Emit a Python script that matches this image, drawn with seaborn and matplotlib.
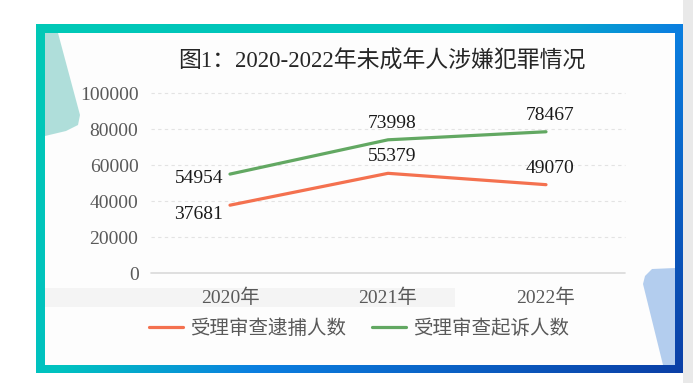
import numpy as np
import pandas as pd
import matplotlib
matplotlib.use("Agg")
import matplotlib.pyplot as plt
import seaborn as sns
from matplotlib.colors import LinearSegmentedColormap
from matplotlib.patches import Rectangle, Polygon

# data
years = ["2020年", "2021年", "2022年"]
arrest = [37681, 55379, 49070]
prosecute = [54954, 73998, 78467]
series_names = ["受理审查逮捕人数", "受理审查起诉人数"]
yticks = [0, 20000, 40000, 60000, 80000, 100000]

df = pd.DataFrame({
    "year": years * 2,
    "value": arrest + prosecute,
    "series": [series_names[0]] * 3 + [series_names[1]] * 3,
})

sns.set_theme(style="white")
plt.rcParams["font.family"] = ["Liberation Serif", "Noto Sans CJK SC"]

W, H = 693, 383
fig = plt.figure(figsize=(W / 100, H / 100), dpi=100)
fig.patch.set_facecolor("white")

# decorative frame in pixel coordinates
bg = fig.add_axes([0, 0, 1, 1], zorder=0)
xx, yy = np.meshgrid(np.linspace(0, 1, 300), np.linspace(0, 1, 200))
t = 0.6 * xx + 0.4 * yy
cmap = LinearSegmentedColormap.from_list(
    "frame", [(0, "#00c9b6"), (0.42, "#00c2c0"), (0.6, "#0b7fe0"), (1, "#0a3fa6")])
bg.imshow(t, cmap=cmap, extent=[36, 683, 373, 24], aspect="auto", interpolation="bilinear")
bg.set_xlim(0, W)
bg.set_ylim(H, 0)
bg.axis("off")

bg.add_patch(Rectangle((683, 0), 10, H, color="#e9e9e9", lw=0))
bg.add_patch(Rectangle((45, 33), 630, 332, color="#fdfdfd", lw=0))
bg.add_patch(Rectangle((45, 288), 410, 19, color="#f4f4f4", lw=0))
bg.add_patch(Polygon([(45, 33), (58, 33), (80, 115), (78, 125), (66, 131), (45, 136)],
                     closed=True, color="#8fd2cc", alpha=0.7, lw=0))
bg.add_patch(Polygon([(675, 268), (652, 269), (645, 276), (643, 284), (663, 365), (675, 365)],
                     closed=True, color="#a6c5ec", alpha=0.85, lw=0))

# chart
ax = fig.add_axes([151 / W, 1 - 273 / H, 474 / W, 180 / H], zorder=1)
ax.set_facecolor("none")
colors = ["#f4714f", "#62a862"]
sns.lineplot(data=df, x="year", y="value", hue="series", palette=colors,
             linewidth=2.3, sort=False, ax=ax, legend=False)

ax.set_xlim(-0.5, 2.5)
ax.set_ylim(0, 100000)
ax.set_yticks(yticks)
ax.set_yticklabels([str(v) for v in yticks])
for v in yticks[1:]:
    ax.axhline(v, color="#e3e3e3", lw=0.8, ls=(0, (3, 3)), zorder=0, clip_on=False)
ax.axhline(0, color="#d9d9d9", lw=1.2, zorder=0, clip_on=False)
for s in ax.spines.values():
    s.set_visible(False)
ax.tick_params(axis="y", length=0, pad=9, labelsize=14, labelcolor="#595959")
ax.tick_params(axis="x", length=0, pad=11, labelsize=14, labelcolor="#595959")
ax.set_xlabel("")
ax.set_ylabel("")

# data labels
lab = dict(fontsize=14, color="#1a1a1a", textcoords="offset points")
ax.annotate(str(prosecute[0]), (0, prosecute[0]), xytext=(-5, -3), ha="right", va="center", **lab)
ax.annotate(str(arrest[0]), (0, arrest[0]), xytext=(-5, -7), ha="right", va="center", **lab)
for i in (1, 2):
    ax.annotate(str(prosecute[i]), (i, prosecute[i]), xytext=(3, 12), ha="center", va="center", **lab)
    ax.annotate(str(arrest[i]), (i, arrest[i]), xytext=(3, 12), ha="center", va="center", **lab)

fig.text(382 / W, 1 - 62 / H, "图1：2020-2022年未成年人涉嫌犯罪情况",
         ha="center", va="center", fontsize=16.5, color="#262626")

handles = [plt.Line2D([], [], color=c, lw=2.3) for c in colors]
fig.legend(handles, series_names, loc="center", bbox_to_anchor=(359 / W, 1 - 328 / H),
           ncol=2, frameon=False, handlelength=1.75, handletextpad=0.4, columnspacing=1.3,
           prop={"family": ["Noto Sans CJK SC"], "size": 14}, labelcolor="#595959")

fig.savefig("out.png", dpi=100)
